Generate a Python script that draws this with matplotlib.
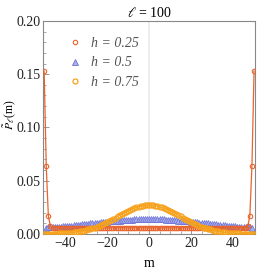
import matplotlib
matplotlib.use("Agg")
import matplotlib.pyplot as plt
from matplotlib.ticker import MultipleLocator
from matplotlib.lines import Line2D

plt.rcParams['font.family'] = ['Liberation Serif', 'DejaVu Serif']
plt.rcParams['mathtext.fontset'] = 'stix'

m = list(range(-50, 51))

p_h025 = [0.1530, 0.0640, 0.0170, 0.0070] + [0.0057] * 93 + [0.0070, 0.0170, 0.0640, 0.1530]

p_h050 = [0.0008, 0.0052, 0.0066, 0.0065, 0.0064, 0.0065, 0.0066, 0.0068, 0.0069, 0.0071,
          0.0073, 0.0075, 0.0077, 0.0079, 0.0081, 0.0083, 0.0085, 0.0087, 0.0089, 0.0091,
          0.0093, 0.0096, 0.0098, 0.0100, 0.0102, 0.0104, 0.0106, 0.0109, 0.0111, 0.0113,
          0.0115, 0.0117, 0.0119, 0.0121, 0.0123, 0.0125, 0.0126, 0.0128, 0.0130, 0.0131,
          0.0133, 0.0134, 0.0135, 0.0136, 0.0137, 0.0138, 0.0139, 0.0139, 0.0140, 0.0140,
          0.0140,
          0.0140, 0.0140, 0.0139, 0.0139, 0.0138, 0.0137, 0.0136, 0.0135, 0.0134, 0.0133,
          0.0131, 0.0130, 0.0128, 0.0126, 0.0125, 0.0123, 0.0121, 0.0119, 0.0117, 0.0115,
          0.0113, 0.0111, 0.0109, 0.0106, 0.0104, 0.0102, 0.0100, 0.0098, 0.0096, 0.0093,
          0.0091, 0.0089, 0.0087, 0.0085, 0.0083, 0.0081, 0.0079, 0.0077, 0.0075, 0.0073,
          0.0071, 0.0069, 0.0068, 0.0066, 0.0065, 0.0064, 0.0065, 0.0066, 0.0052, 0.0008]

p_h075 = [0.0001, 0.0001, 0.0001, 0.0002, 0.0002, 0.0003, 0.0003, 0.0004, 0.0005, 0.0006,
          0.0008, 0.0009, 0.0011, 0.0013, 0.0015, 0.0018, 0.0021, 0.0024, 0.0028, 0.0032,
          0.0037, 0.0042, 0.0047, 0.0053, 0.0060, 0.0067, 0.0075, 0.0083, 0.0092, 0.0101,
          0.0111, 0.0121, 0.0131, 0.0142, 0.0153, 0.0164, 0.0175, 0.0185, 0.0196, 0.0206,
          0.0216, 0.0226, 0.0234, 0.0242, 0.0249, 0.0255, 0.0261, 0.0265, 0.0268, 0.0269,
          0.0270,
          0.0269, 0.0268, 0.0265, 0.0261, 0.0255, 0.0249, 0.0242, 0.0234, 0.0226, 0.0216,
          0.0206, 0.0196, 0.0185, 0.0175, 0.0164, 0.0153, 0.0142, 0.0131, 0.0121, 0.0111,
          0.0101, 0.0092, 0.0083, 0.0075, 0.0067, 0.0060, 0.0053, 0.0047, 0.0042, 0.0037,
          0.0032, 0.0028, 0.0024, 0.0021, 0.0018, 0.0015, 0.0013, 0.0011, 0.0009, 0.0008,
          0.0006, 0.0005, 0.0004, 0.0003, 0.0003, 0.0002, 0.0002, 0.0001, 0.0001, 0.0001]

labels = ["h = 0.25", "h = 0.5", "h = 0.75"]
colors = ["#E8642C", "#6B72D6", "#F6A21C"]

fig = plt.figure(figsize=(2.66, 2.72), dpi=100)
ax = fig.add_axes([0.162, 0.140, 0.797, 0.783])

ax.axvline(0, color="#EBEBEB", lw=1.2, zorder=0)

ax.plot(m, p_h025, color=colors[0], lw=0.9, marker='o', ms=3.2, mfc='none', mew=0.8, zorder=3)
ax.plot(m, p_h050, color=colors[1], lw=0.9, marker='^', ms=3.8, mfc='#A9AEEA', mec=colors[1],
        alpha=0.9, mew=0.6, zorder=2)
ax.plot(m, p_h075, color=colors[2], lw=0.9, marker='o', ms=3.6, mfc='none', mew=0.9, zorder=4)

ax.set_xlim(-50.5, 50.5)
ax.set_ylim(0, 0.20)
ax.xaxis.set_major_locator(MultipleLocator(20))
ax.xaxis.set_minor_locator(MultipleLocator(5))
ax.yaxis.set_major_locator(MultipleLocator(0.05))
ax.yaxis.set_minor_locator(MultipleLocator(0.01))
ax.yaxis.set_major_formatter(matplotlib.ticker.FormatStrFormatter('%.2f'))
ax.tick_params(which='both', direction='in', top=False, right=False, color='#888888',
               labelsize=10, labelcolor='#222222', pad=2)
ax.tick_params(which='major', length=4, width=0.6)
ax.tick_params(which='minor', length=2, width=0.5)
for s in ax.spines.values():
    s.set_color('#888888')
    s.set_linewidth(0.8)

ax.set_title(r"$\ell$ = 100", fontsize=10, pad=3)
ax.set_xlabel("m", fontsize=10, labelpad=5)
ax.set_ylabel(r"$\tilde{P}_{\ell}$(m)", fontsize=8.5)
ax.yaxis.set_label_coords(-0.12, 0.56)

handles = [
    Line2D([], [], ls='none', marker='o', ms=3.2, mfc='none', mec=colors[0], mew=0.8),
    Line2D([], [], ls='none', marker='^', ms=3.8, mfc='#A9AEEA', mec=colors[1], mew=0.6),
    Line2D([], [], ls='none', marker='o', ms=3.6, mfc='none', mec=colors[2], mew=0.9),
]
leg = ax.legend(handles, labels, loc='upper left', bbox_to_anchor=(0.10, 0.95), frameon=False,
                handlelength=0.8, handletextpad=0.7, labelspacing=0.45, borderaxespad=0,
                prop={'family': 'Liberation Serif', 'style': 'italic', 'size': 10})
for t in leg.get_texts():
    t.set_color('#555555')

fig.savefig("out.png", dpi=100)
